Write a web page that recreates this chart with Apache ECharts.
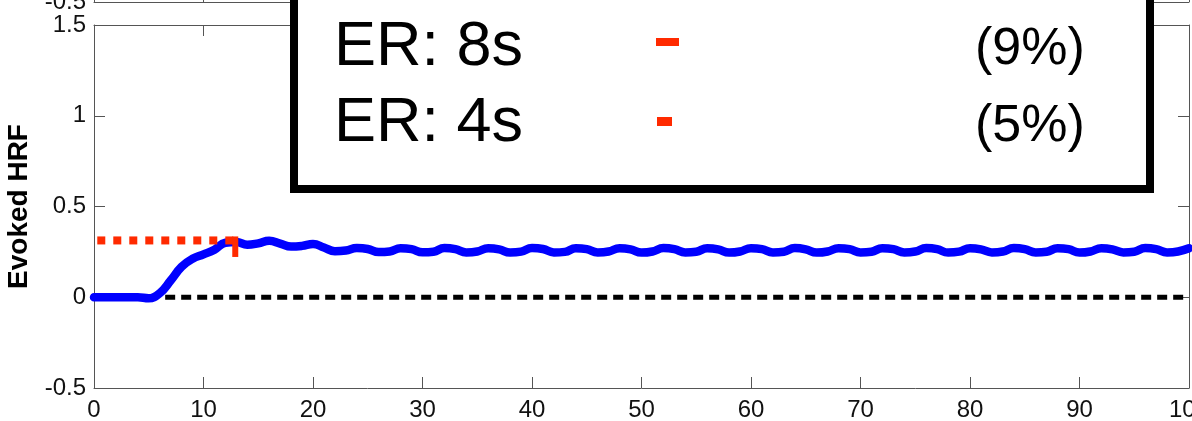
<!DOCTYPE html>
<html>
<head>
<meta charset="utf-8">
<script src="https://cdn.jsdelivr.net/npm/echarts@6/dist/echarts.min.js"></script>
<style>html,body{margin:0;padding:0;background:#fff}#c{width:1192px;height:421px}</style>
</head>
<body>
<div id="c"></div>
<script>
// ---- data ----
const time = [0,1,2,3,4,5,6,7,8,9,10,11,12,13,14,15,16,17,18,19,20,21,22,23,24,25,26,27,28,29,30,31,32,33,34,35,36,37,38,39,40,41,42,43,44,45,46,47,48,49,50,51,52,53,54,55,56,57,58,59,60,61,62,63,64,65,66,67,68,69,70,71,72,73,74,75,76,77,78,79,80,81,82,83,84,85,86,87,88,89,90,91,92,93,94,95,96,97,98,99,100];
const evokedHRF = [0,0,0,0,0,-0.006,0.022,0.092,0.168,0.212,0.236,0.262,0.300,0.304,0.289,0.297,0.311,0.296,0.279,0.283,0.293,0.274,0.254,0.258,
  0.271,0.266,0.249,0.252,0.270,0.265,0.248,0.251,0.271,0.265,0.247,0.252,0.270,0.264,0.246,0.251,0.271,0.266,0.247,0.250,
  0.270,0.265,0.247,0.252,0.270,0.264,0.246,0.252,0.271,0.265,0.247,0.251,0.270,0.264,0.246,0.252,0.270,0.265,0.247,0.251,
  0.271,0.264,0.246,0.252,0.270,0.265,0.247,0.251,0.270,0.265,0.247,0.252,0.271,0.265,0.246,0.251,0.270,0.264,0.247,0.252,
  0.271,0.265,0.247,0.251,0.270,0.265,0.246,0.252,0.270,0.264,0.247,0.251,0.271,0.265,0.247,0.252,0.270];
const baselineX = [6.5, 100];
const baselineY = [0, 0];
const peakLevelX = [0.3, 12.9];
const peakLevelY = [0.313, 0.313];
const peakMarkX = [12.9, 12.9];
const peakMarkY = [0.335, 0.222];
const xTicks = [0,10,20,30,40,50,60,70,80,90,100];
const yTicks = ['-0.5','0','0.5','1','1.5'];
const legendRows = ['ER: 8s','ER: 4s'];
const legendPct = ['(9%)','(5%)'];
const yName = 'Evoked HRF';

const FONT = 'Liberation Sans, Arial, Helvetica, sans-serif';
const pair = (xs, ys) => xs.map((x, i) => [x, ys[i]]);
const axisLine = {show: true, onZero: false, lineStyle: {color: '#555', width: 1}};
const tick = {show: true, inside: true, length: 11, lineStyle: {color: '#555', width: 1}};

const chart = echarts.init(document.getElementById('c'), null, {renderer: 'canvas'});
chart.setOption({
  animation: false,
  backgroundColor: '#fff',
  grid: [
    {left: 94, right: 3, top: 25, bottom: 33, containLabel: false, outerBoundsMode: 'none'},
    {left: 94, right: 3, top: -361, height: 363, containLabel: false, outerBoundsMode: 'none'}
  ],
  xAxis: [
    {type: 'value', gridIndex: 0, min: 0, max: 100, interval: 10, position: 'bottom',
     axisLine: axisLine, axisTick: tick, splitLine: {show: false},
     axisLabel: {fontFamily: FONT, fontSize: 24, color: '#111', margin: 10,
       formatter: v => String(xTicks[Math.round(v / 10)])}},
    {type: 'value', gridIndex: 0, min: 0, max: 100, interval: 10, position: 'top',
     axisLine: axisLine, axisTick: tick, axisLabel: {show: false}, splitLine: {show: false}},
    {type: 'value', gridIndex: 1, min: 0, max: 100, interval: 10, position: 'bottom',
     axisLine: axisLine, axisTick: tick, axisLabel: {show: false}, splitLine: {show: false}}
  ],
  yAxis: [
    {type: 'value', gridIndex: 0, min: -0.5, max: 1.5, interval: 0.5, position: 'left',
     axisLine: axisLine, axisTick: tick, splitLine: {show: false},
     axisLabel: {fontFamily: FONT, fontSize: 24, color: '#111', margin: 8,
       formatter: v => yTicks[Math.round((v + 0.5) / 0.5)]},
     name: yName, nameLocation: 'middle', nameGap: 55, nameRotate: 90,
     nameTextStyle: {fontFamily: FONT, fontSize: 28, fontWeight: 'bold', color: '#000'}},
    {type: 'value', gridIndex: 0, min: -0.5, max: 1.5, interval: 0.5, position: 'right',
     axisLine: axisLine, axisTick: tick, axisLabel: {show: false}, splitLine: {show: false}},
    {type: 'value', gridIndex: 1, min: -0.5, max: 1.5, interval: 0.5, position: 'left',
     axisLine: axisLine, axisTick: tick, splitLine: {show: false},
     axisLabel: {fontFamily: FONT, fontSize: 24, color: '#111', margin: 8, padding: [0, 0, 14, 0],
       formatter: v => yTicks[Math.round((v + 0.5) / 0.5)]}}
  ],
  series: [
    {type: 'line', xAxisIndex: 0, yAxisIndex: 0, data: pair(baselineX, baselineY), showSymbol: false, z: 2,
     lineStyle: {color: '#000', width: 5, type: [10, 6], cap: 'butt'}},
    {type: 'line', xAxisIndex: 0, yAxisIndex: 0, data: pair(time, evokedHRF), showSymbol: false, smooth: 0.45, z: 3,
     lineStyle: {color: '#0000ff', width: 8.5, cap: 'round', join: 'round'}},
    {type: 'line', xAxisIndex: 0, yAxisIndex: 0, data: pair(peakLevelX, peakLevelY), showSymbol: false, z: 4,
     lineStyle: {color: '#ff2a00', width: 8, type: [8, 8], cap: 'butt'}},
    {type: 'line', xAxisIndex: 0, yAxisIndex: 0, data: pair(peakMarkX, peakMarkY), showSymbol: false, z: 4,
     lineStyle: {color: '#ff2a00', width: 6, cap: 'butt'}}
  ],
  graphic: [
    {type: 'rect', z: 100, shape: {x: 294, y: -20, width: 856, height: 209},
     style: {fill: '#fff', stroke: '#000', lineWidth: 8}},
    {type: 'text', z: 101, style: {text: legendRows[0], x: 334, y: 48, font: '63px ' + FONT, fill: '#000', verticalAlign: 'middle', align: 'left'}},
    {type: 'text', z: 101, style: {text: legendRows[1], x: 334, y: 124, font: '63px ' + FONT, fill: '#000', verticalAlign: 'middle', align: 'left'}},
    {type: 'rect', z: 101, shape: {x: 656, y: 38, width: 23, height: 8}, style: {fill: '#ff2a00'}},
    {type: 'rect', z: 101, shape: {x: 657, y: 117, width: 15, height: 9}, style: {fill: '#ff2a00'}},
    {type: 'text', z: 101, style: {text: legendPct[0], x: 975, y: 50, font: '52px ' + FONT, fill: '#000', verticalAlign: 'middle', align: 'left'}},
    {type: 'text', z: 101, style: {text: legendPct[1], x: 975, y: 127, font: '52px ' + FONT, fill: '#000', verticalAlign: 'middle', align: 'left'}}
  ]
});
</script>
</body>
</html>
